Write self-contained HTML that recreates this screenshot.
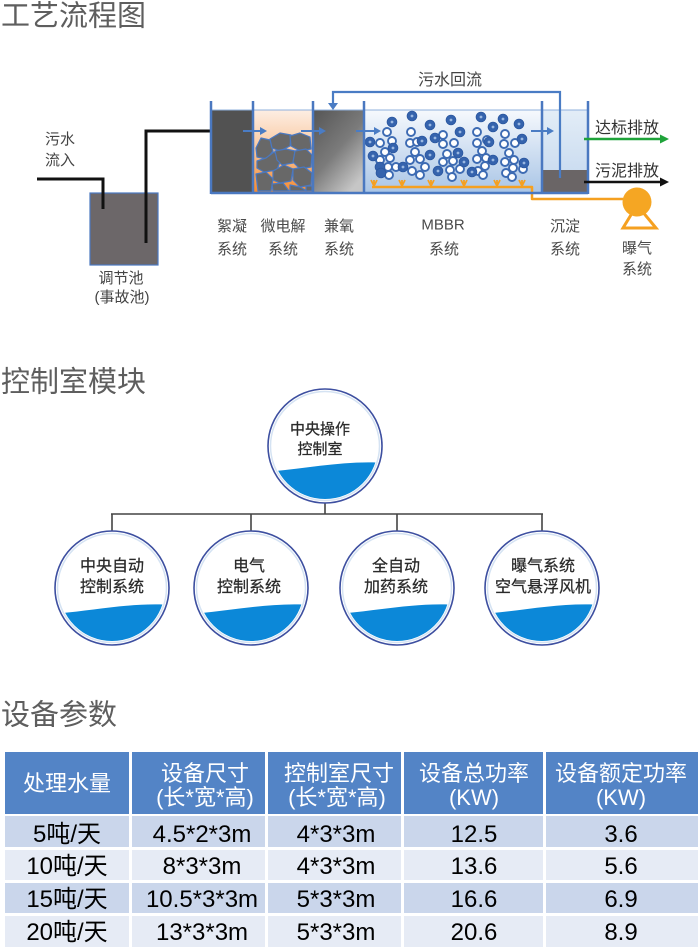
<!DOCTYPE html>
<html><head><meta charset="utf-8">
<style>
html,body{margin:0;padding:0;background:#fff;}
svg{display:block;}
text{font-family:"Liberation Sans","Noto Sans CJK SC",sans-serif;}
</style></head><body>
<svg width="700" height="947" viewBox="0 0 700 947" xmlns="http://www.w3.org/2000/svg">
<defs>
 <linearGradient id="gOr" x1="0" y1="0" x2="0" y2="1"><stop offset="0" stop-color="#fdeee3"/><stop offset="0.45" stop-color="#f9c9a2"/><stop offset="1" stop-color="#f58a2e"/></linearGradient>
 <linearGradient id="gGr" x1="0" y1="0" x2="0.7" y2="1"><stop offset="0" stop-color="#555"/><stop offset="0.55" stop-color="#7b7b7b"/><stop offset="1" stop-color="#c6c6c6"/></linearGradient>
 <linearGradient id="gBl" x1="0" y1="0" x2="0" y2="1"><stop offset="0" stop-color="#f6f9fd"/><stop offset="1" stop-color="#a9c5e6"/></linearGradient>
 <linearGradient id="gSd" x1="0" y1="0" x2="0" y2="1"><stop offset="0" stop-color="#e3edf7"/><stop offset="1" stop-color="#c3d7ee"/></linearGradient>
 <clipPath id="c0"><circle cx="325" cy="446" r="53"/></clipPath>
 <clipPath id="c1"><circle cx="112" cy="588" r="53"/></clipPath>
 <clipPath id="c2"><circle cx="251" cy="588" r="53"/></clipPath>
 <clipPath id="c3"><circle cx="397" cy="588" r="53"/></clipPath>
 <clipPath id="c4"><circle cx="542" cy="588" r="53"/></clipPath>
</defs>

<!-- ===== Section 1 ===== -->
<text x="1" y="25.5" font-size="29" fill="#5e5e5e">工艺流程图</text>

<!-- inlet -->
<text x="60" y="144" font-size="15" fill="#444" text-anchor="middle">污水</text>
<text x="60" y="165" font-size="15" fill="#444" text-anchor="middle">流入</text>
<rect x="90" y="193" width="68" height="72" fill="#6c6769" stroke="#4a78c0" stroke-width="1.2"/>
<polyline points="37,179 103,179 103,209" fill="none" stroke="#111" stroke-width="3"/>
<polyline points="146,243 146,131 223,131" fill="none" stroke="#111" stroke-width="3"/>
<text x="121" y="283" font-size="15" fill="#444" text-anchor="middle">调节池</text>
<text x="122" y="302" font-size="15" fill="#444" text-anchor="middle">(事故池)</text>

<!-- tanks fills -->
<rect x="212" y="110" width="41" height="83" fill="#525252"/>
<rect x="254" y="110" width="59" height="83" fill="url(#gOr)"/>
<rect x="313" y="110" width="51" height="83" fill="url(#gGr)"/>
<rect x="364" y="110" width="178" height="83" fill="url(#gBl)"/>
<rect x="542" y="110" width="46" height="83" fill="url(#gSd)"/>
<rect x="543" y="170" width="44" height="22" fill="#6a6566"/>
<line x1="211" y1="110" x2="588" y2="110" stroke="#8fb0dc" stroke-width="1"/>

<!-- rocks -->
<g fill="#686868" stroke="#4a78c0" stroke-width="1.2" stroke-linejoin="round">
 <polygon points="256,148 261,138 270,140 273,151 267,159 257,157"/>
 <polygon points="270,139 280,133 291,135 290,146 280,151 272,148"/>
 <polygon points="290,136 300,133 310,137 311,149 300,151 291,146"/>
 <polygon points="257,161 266,158 274,152 281,159 277,170 264,172 257,168"/>
 <polygon points="275,151 286,149 295,151 293,163 282,165 277,160"/>
 <polygon points="295,151 306,149 312,155 311,167 300,169 293,162"/>
 <polygon points="256,174 266,172 273,179 271,191 258,191"/>
 <polygon points="273,171 284,165 293,169 291,181 280,183 273,180"/>
 <polygon points="293,169 304,167 312,173 311,185 300,187 293,180"/>
 <polygon points="272,184 283,183 289,191 273,191"/>
 <polygon points="290,185 300,187 307,191 290,191"/>
 <polygon points="306,186 312,186 312,191 306,191"/>
</g>

<!-- bubbles -->
<g fill="#fff" stroke="#3d6bb3" stroke-width="1.9">
 <circle cx="387" cy="132" r="4"/><circle cx="411" cy="132" r="4"/><circle cx="443" cy="135" r="4"/><circle cx="477" cy="132" r="4"/><circle cx="505" cy="134" r="4"/>
 <circle cx="380" cy="143" r="4"/><circle cx="392" cy="141" r="4"/><circle cx="410" cy="143" r="4"/><circle cx="417" cy="142" r="4"/><circle cx="443" cy="144" r="4"/>
 <circle cx="454" cy="143" r="4"/><circle cx="477" cy="143" r="4"/><circle cx="487" cy="140" r="4"/><circle cx="504" cy="144" r="4"/><circle cx="515" cy="143" r="4"/>
 <circle cx="385" cy="152" r="4"/><circle cx="415" cy="152" r="4"/><circle cx="447" cy="154" r="4"/><circle cx="482" cy="151" r="4"/><circle cx="509" cy="153" r="4"/>
 <circle cx="380" cy="160" r="4"/><circle cx="390" cy="158" r="4"/><circle cx="410" cy="160" r="4"/><circle cx="420" cy="159" r="4"/><circle cx="443" cy="162" r="4"/>
 <circle cx="453" cy="161" r="4"/><circle cx="477" cy="159" r="4"/><circle cx="486" cy="158" r="4"/><circle cx="505" cy="162" r="4"/><circle cx="514" cy="160" r="4"/>
 <circle cx="388" cy="167" r="4"/><circle cx="396" cy="167" r="4"/><circle cx="412" cy="171" r="4"/><circle cx="425" cy="167" r="4"/><circle cx="450" cy="170" r="4"/>
 <circle cx="460" cy="169" r="4"/><circle cx="478" cy="171" r="4"/><circle cx="485" cy="166" r="4"/><circle cx="506" cy="173" r="4"/><circle cx="513" cy="168" r="4"/>
 <circle cx="523" cy="169" r="4"/><circle cx="389" cy="175" r="4"/><circle cx="420" cy="175" r="4"/><circle cx="452" cy="177" r="4"/><circle cx="483" cy="175" r="4"/><circle cx="512" cy="177" r="4"/>
</g>
<g fill="#3563ad" stroke="#2c58a0" stroke-width="0.8">
 <circle cx="392" cy="122" r="4.9"/><circle cx="412" cy="116" r="4.9"/><circle cx="430" cy="125" r="4.9"/><circle cx="451" cy="120" r="4.9"/><circle cx="481" cy="117" r="4.9"/>
 <circle cx="503" cy="119" r="4.9"/><circle cx="519" cy="124" r="4.9"/><circle cx="493" cy="127" r="4.9"/><circle cx="460" cy="132" r="4.9"/><circle cx="435" cy="138" r="4.9"/>
 <circle cx="422" cy="141" r="4.9"/><circle cx="393" cy="148" r="4.9"/><circle cx="370" cy="142" r="4.9"/><circle cx="373" cy="156" r="4.9"/><circle cx="380" cy="167" r="4.9"/>
 <circle cx="403" cy="167" r="4.9"/><circle cx="430" cy="155" r="4.9"/><circle cx="458" cy="153" r="4.9"/><circle cx="464" cy="162" r="4.9"/><circle cx="438" cy="171" r="4.9"/>
 <circle cx="472" cy="172" r="4.9"/><circle cx="489" cy="142" r="4.9"/><circle cx="493" cy="160" r="4.9"/><circle cx="522" cy="139" r="4.9"/><circle cx="524" cy="163" r="4.9"/><circle cx="381" cy="173" r="4.9"/>
</g>
<g fill="#9ab8e2">
 <circle cx="392" cy="122" r="1.4"/><circle cx="412" cy="116" r="1.4"/><circle cx="430" cy="125" r="1.4"/><circle cx="451" cy="120" r="1.4"/><circle cx="481" cy="117" r="1.4"/>
 <circle cx="503" cy="119" r="1.4"/><circle cx="519" cy="124" r="1.4"/><circle cx="493" cy="127" r="1.4"/><circle cx="460" cy="132" r="1.4"/><circle cx="435" cy="138" r="1.4"/>
 <circle cx="422" cy="141" r="1.4"/><circle cx="393" cy="148" r="1.4"/><circle cx="370" cy="142" r="1.4"/><circle cx="373" cy="156" r="1.4"/><circle cx="403" cy="167" r="1.4"/>
 <circle cx="430" cy="155" r="1.4"/><circle cx="458" cy="153" r="1.4"/><circle cx="464" cy="162" r="1.4"/><circle cx="438" cy="171" r="1.4"/><circle cx="472" cy="172" r="1.4"/>
 <circle cx="489" cy="142" r="1.4"/><circle cx="493" cy="160" r="1.4"/><circle cx="522" cy="139" r="1.4"/><circle cx="524" cy="163" r="1.4"/>
</g>

<!-- aerator -->
<g stroke="#f5a020" stroke-width="2.5" fill="none" stroke-linejoin="round">
 <polyline points="372,187 532,187 532,199 624,199"/>
 <path d="M374 187 V180 M371 180 L374 186 L377 180 M402 187 V180 M399 180 L402 186 L405 180 M431 187 V180 M428 180 L431 186 L434 180 M464 187 V180 M461 180 L464 186 L467 180 M497 187 V180 M494 180 L497 186 L500 180 M522 187 V180 M519 180 L522 186 L525 180" stroke-width="1.8"/>
</g>
<polygon points="637,205 623,228 656,228" fill="#fff" stroke="#f5a020" stroke-width="3" stroke-linejoin="miter"/>
<circle cx="637" cy="202" r="14.5" fill="#f5a623"/>

<!-- tank walls -->
<g stroke="#4a78c0" stroke-width="2.5" fill="none">
 <line x1="211" y1="193" x2="588" y2="193"/>
 <line x1="211" y1="101" x2="211" y2="194"/>
 <line x1="253" y1="101" x2="253" y2="194"/>
 <line x1="313" y1="101" x2="313" y2="194"/>
 <line x1="364" y1="101" x2="364" y2="194"/>
 <line x1="542" y1="101" x2="542" y2="194"/>
 <line x1="588" y1="101" x2="588" y2="194"/>
</g>
<!-- return pipe -->
<polyline points="333,104 333,92 560,92 560,178" fill="none" stroke="#4a7cc4" stroke-width="2.2"/>
<polygon points="328,103 338,103 333,110" fill="#4a7cc4"/>
<text x="450" y="85" font-size="16" fill="#444" text-anchor="middle">污水回流</text>

<!-- flow arrows -->
<g stroke="#4a7cc4" stroke-width="2">
 <line x1="243" y1="131" x2="261" y2="131"/><line x1="301" y1="131" x2="320" y2="131"/>
 <line x1="356" y1="131" x2="375" y2="131"/><line x1="531" y1="131" x2="548" y2="131"/>
</g>
<g fill="#4a7cc4">
 <polygon points="260,127 267,131 260,135"/><polygon points="319,127 326,131 319,135"/>
 <polygon points="374,127 381,131 374,135"/><polygon points="547,127 554,131 547,135"/>
</g>

<!-- outlets -->
<line x1="584" y1="139" x2="662" y2="139" stroke="#1fa33a" stroke-width="2.5"/>
<polygon points="660,134.5 669,139 660,143.5" fill="#1fa33a"/>
<line x1="584" y1="182" x2="662" y2="182" stroke="#111" stroke-width="2.5"/>
<polygon points="660,177.5 669,182 660,186.5" fill="#111"/>
<text x="627" y="133" font-size="16" fill="#333" text-anchor="middle">达标排放</text>
<text x="627" y="176" font-size="16" fill="#333" text-anchor="middle">污泥排放</text>

<!-- labels -->
<g font-size="15" fill="#4a4a4a" text-anchor="middle">
 <text x="232" y="231">絮凝</text><text x="232" y="254">系统</text>
 <text x="283" y="231">微电解</text><text x="283" y="254">系统</text>
 <text x="339" y="231">兼氧</text><text x="339" y="254">系统</text>
 <text x="443" y="229.5">MBBR</text><text x="444" y="254">系统</text>
 <text x="565" y="231">沉淀</text><text x="565" y="254">系统</text>
 <text x="637" y="253">曝气</text><text x="637" y="274">系统</text>
</g>

<!-- ===== Section 2 ===== -->
<text x="1" y="391.5" font-size="29" fill="#5e5e5e">控制室模块</text>

<path d="M325 503 V514 M111 514 H543 M112 514 V531 M251 514 V531 M397 514 V531 M542 514 V531" stroke="#444" stroke-width="1.6" fill="none"/>

<g fill="#fff" stroke="#3d4fa0" stroke-width="1.6">
 <circle cx="325" cy="446" r="57"/>
 <circle cx="112" cy="588" r="57"/>
 <circle cx="251" cy="588" r="57"/>
 <circle cx="397" cy="588" r="57"/>
 <circle cx="542" cy="588" r="57"/>
</g>
<g fill="none" stroke="#d5e3f3" stroke-width="1.5">
 <circle cx="325" cy="446" r="54.5"/>
 <circle cx="112" cy="588" r="54.5"/>
 <circle cx="251" cy="588" r="54.5"/>
 <circle cx="397" cy="588" r="54.5"/>
 <circle cx="542" cy="588" r="54.5"/>
</g>
<g fill="#0c88d8">
 <path clip-path="url(#c0)" d="M265 472 C305 469 345 460 385 463 L385 510 L265 510 Z"/>
 <path clip-path="url(#c1)" d="M52 614 C92 611 132 602 172 605 L172 652 L52 652 Z"/>
 <path clip-path="url(#c2)" d="M191 614 C231 611 271 602 311 605 L311 652 L191 652 Z"/>
 <path clip-path="url(#c3)" d="M337 614 C377 611 417 602 457 605 L457 652 L337 652 Z"/>
 <path clip-path="url(#c4)" d="M482 614 C522 611 562 602 602 605 L602 652 L482 652 Z"/>
</g>
<g fill="#2a2a2a" text-anchor="middle" stroke="#2a2a2a" stroke-width="0.25">
 <text x="320" y="434" font-size="15">中央操作</text>
 <text x="320" y="454" font-size="15">控制室</text>
 <text x="112" y="571" font-size="16">中央自动</text>
 <text x="112" y="592" font-size="16">控制系统</text>
 <text x="249" y="571" font-size="16">电气</text>
 <text x="249" y="592" font-size="16">控制系统</text>
 <text x="396" y="571" font-size="16">全自动</text>
 <text x="396" y="592" font-size="16">加药系统</text>
 <text x="543" y="571" font-size="16">曝气系统</text>
 <text x="543" y="592" font-size="16">空气悬浮风机</text>
</g>

<!-- ===== Section 3 ===== -->
<text x="1" y="724.5" font-size="29" fill="#5e5e5e">设备参数</text>

<g fill="#5384c6">
 <rect x="5" y="752" width="124" height="62"/>
 <rect x="132" y="752" width="133" height="62"/>
 <rect x="268" y="752" width="133" height="62"/>
 <rect x="404" y="752" width="139" height="62"/>
 <rect x="546" y="752" width="152" height="62"/>
</g>
<g fill="#cad6eb">
 <rect x="5" y="816" width="124" height="31"/><rect x="132" y="816" width="133" height="31"/><rect x="268" y="816" width="133" height="31"/><rect x="404" y="816" width="139" height="31"/><rect x="546" y="816" width="152" height="31"/>
 <rect x="5" y="883" width="124" height="30"/><rect x="132" y="883" width="133" height="30"/><rect x="268" y="883" width="133" height="30"/><rect x="404" y="883" width="139" height="30"/><rect x="546" y="883" width="152" height="30"/>
</g>
<g fill="#e6ebf5">
 <rect x="5" y="850" width="124" height="30"/><rect x="132" y="850" width="133" height="30"/><rect x="268" y="850" width="133" height="30"/><rect x="404" y="850" width="139" height="30"/><rect x="546" y="850" width="152" height="30"/>
 <rect x="5" y="916" width="124" height="31"/><rect x="132" y="916" width="133" height="31"/><rect x="268" y="916" width="133" height="31"/><rect x="404" y="916" width="139" height="31"/><rect x="546" y="916" width="152" height="31"/>
</g>

<g fill="#fff" font-size="22" text-anchor="middle">
 <text x="67" y="791">处理水量</text>
 <text x="205" y="781">设备尺寸</text><text x="205" y="805">(长*宽*高)</text>
 <text x="339" y="781">控制室尺寸</text><text x="337" y="805">(长*宽*高)</text>
 <text x="474" y="781">设备总功率</text><text x="474" y="805">(KW)</text>
 <text x="621" y="781">设备额定功率</text><text x="621" y="805">(KW)</text>
</g>

<g fill="#000" font-size="24" text-anchor="middle">
 <text x="67" y="842">5吨/天</text><text x="202" y="842">4.5*2*3m</text><text x="336" y="842">4*3*3m</text><text x="474" y="842">12.5</text><text x="621" y="842">3.6</text>
 <text x="67" y="874">10吨/天</text><text x="202" y="874">8*3*3m</text><text x="336" y="874">4*3*3m</text><text x="474" y="874">13.6</text><text x="621" y="874">5.6</text>
 <text x="67" y="907">15吨/天</text><text x="202" y="907">10.5*3*3m</text><text x="336" y="907">5*3*3m</text><text x="474" y="907">16.6</text><text x="621" y="907">6.9</text>
 <text x="67" y="940">20吨/天</text><text x="202" y="940">13*3*3m</text><text x="336" y="940">5*3*3m</text><text x="474" y="940">20.6</text><text x="621" y="940">8.9</text>
</g>
</svg>
</body></html>
